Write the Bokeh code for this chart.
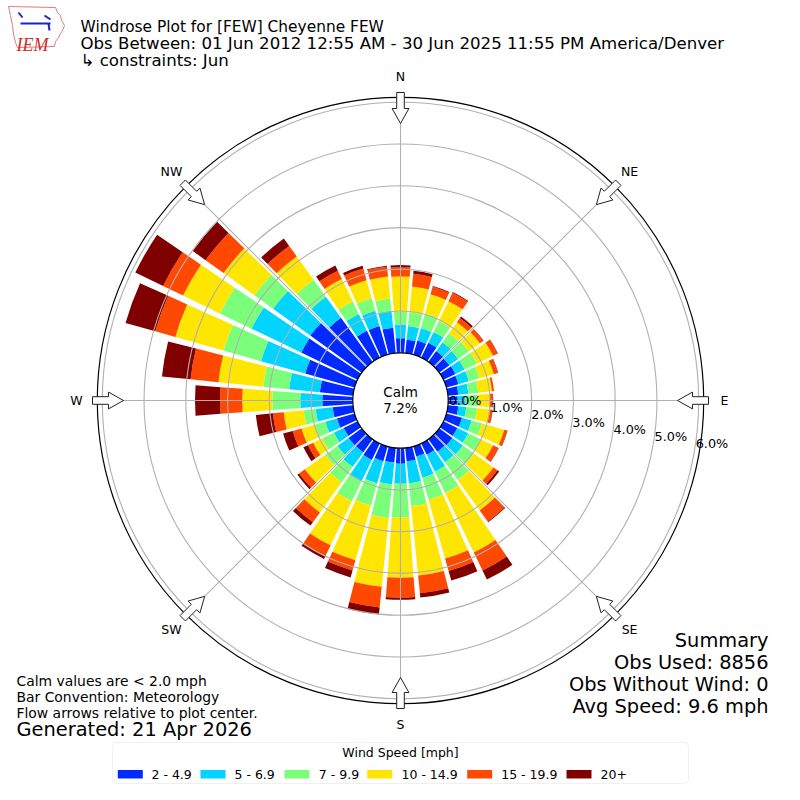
import numpy as np
from bokeh.plotting import figure
from bokeh.models import Range1d, ColumnDataSource, BoxAnnotation
from bokeh.core.properties import value
from bokeh.embed import file_html
from bokeh.resources import INLINE

# ---------------- data ----------------
directions = [0, 10, 20, 30, 40, 50, 60, 70, 80, 90, 100, 110, 120, 130, 140, 150, 160, 170,
              180, 190, 200, 210, 220, 230, 240, 250, 260, 270, 280, 290, 300, 310, 320, 330, 340, 350]
speed_labels = ["2 - 4.9", "5 - 6.9", "7 - 9.9", "10 - 14.9", "15 - 19.9", "20+"]
speed_colors = ["#002aff", "#00d4ff", "#7bff7b", "#ffe600", "#ff4800", "#800000"]

pct_2_5 = [0.35, 0.32, 0.35, 0.39, 0.32, 0.30, 0.32, 0.30, 0.25, 0.23, 0.25, 0.39, 0.37, 0.39, 0.37, 0.30, 0.25, 0.32,
           0.37, 0.35, 0.37, 0.44, 0.39, 0.39, 0.37, 0.44, 0.49, 0.73, 0.80, 1.23, 1.50, 1.52, 1.30, 0.71, 0.71, 0.61]
pct_5_7 = [0.33, 0.33, 0.31, 0.29, 0.26, 0.26, 0.24, 0.26, 0.24, 0.19, 0.19, 0.24, 0.29, 0.31, 0.31, 0.45, 0.53, 0.53,
           0.48, 0.53, 0.55, 0.57, 0.43, 0.33, 0.26, 0.29, 0.41, 0.53, 0.74, 1.10, 1.32, 1.10, 0.62, 0.45, 0.38, 0.41]
pct_7_10 = [0.31, 0.33, 0.36, 0.29, 0.26, 0.31, 0.33, 0.26, 0.24, 0.29, 0.26, 0.26, 0.33, 0.33, 0.53, 0.57, 0.55, 0.55,
            0.81, 0.81, 0.55, 0.53, 0.45, 0.36, 0.31, 0.26, 0.29, 0.67, 0.62, 0.93, 0.84, 0.55, 0.50, 0.33, 0.31, 0.29]
pct_10_15 = [0.84, 0.62, 0.48, 0.53, 0.33, 0.33, 0.43, 0.36, 0.33, 0.29, 0.31, 0.55, 0.33, 0.57, 0.89, 1.58, 1.46, 1.67,
             1.44, 1.65, 1.36, 1.17, 0.89, 0.60, 0.24, 0.33, 0.48, 0.72, 1.08, 1.20, 0.98, 0.91, 0.69, 0.60, 0.45, 0.53]
pct_15_20 = [0.22, 0.31, 0.19, 0.22, 0.12, 0.10, 0.12, 0.10, 0.05, 0.07, 0.07, 0.07, 0.14, 0.12, 0.33, 0.48, 0.31, 0.43,
             0.48, 0.50, 0.26, 0.29, 0.29, 0.17, 0.14, 0.22, 0.26, 0.53, 0.67, 0.50, 0.53, 0.53, 0.31, 0.22, 0.29, 0.24]
pct_20_up = [0.05, 0.07, 0.02, 0.02, 0.05, 0.01, 0.01, 0.01, 0.00, 0.01, 0.00, 0.01, 0.01, 0.05, 0.02, 0.24, 0.24, 0.10,
             0.05, 0.17, 0.17, 0.07, 0.10, 0.05, 0.12, 0.24, 0.41, 0.60, 0.69, 0.74, 0.74, 0.38, 0.22, 0.14, 0.07, 0.02]
speed_series = [pct_2_5, pct_5_7, pct_7_10, pct_10_15, pct_15_20, pct_20_up]

calm_pct = 7.2
ring_ticks = [0, 1, 2, 3, 4, 5, 6]
compass_names = ["N", "NE", "E", "SE", "S", "SW", "W", "NW"]
compass_deg = [0, 45, 90, 135, 180, 225, 270, 315]

title_main = "Windrose Plot for [FEW] Cheyenne FEW"
title_sub = ["Obs Between: 01 Jun 2012 12:55 AM - 30 Jun 2025 11:55 PM America/Denver",
             " \u21b3 constraints: Jun"]
notes = ["Calm values are < 2.0 mph", "Bar Convention: Meteorology", "Flow arrows relative to plot center."]
generated = "Generated: 21 Apr 2026"
summary = ["Summary", "Obs Used: 8856", "Obs Without Wind: 0", "Avg Speed: 9.6 mph"]
legend_title = "Wind Speed [mph]"

# ---------------- layout ----------------
FONT = value("DejaVu Sans")
p = figure(width=784, height=784, x_range=Range1d(0, 784), y_range=Range1d(16, 800),
           output_backend="svg", toolbar_location=None, min_border=0,
           x_axis_type=None, y_axis_type=None)
p.grid.visible = False
p.outline_line_color = None
p.background_fill_color = "white"
p.border_fill_color = "white"


def Y(yref):
    return 800 - yref


CX, CY = 400.0, Y(400)
R0 = 47.7      # radius of 0 % (calm circle edge)
S = 41.75      # pixels per percent
R_MAX = 6.12   # axis limit in percent


def rad(pct):
    return R0 + S * pct


HALF = np.deg2rad(4.25)

# bars
xs, ys, inner, outer, st, en, col = [], [], [], [], [], [], []
for i, d in enumerate(directions):
    cum = 0.0
    phi = np.deg2rad(90 - d)
    for b, series in enumerate(speed_series):
        v = series[i]
        if v <= 0:
            continue
        xs.append(CX); ys.append(CY)
        inner.append(rad(cum))
        cum += v
        outer.append(rad(cum))
        st.append(phi - HALF); en.append(phi + HALF)
        col.append(speed_colors[b])
src = ColumnDataSource(dict(x=xs, y=ys, inner=inner, outer=outer, start=st, end=en, color=col))
p.annular_wedge(x="x", y="y", inner_radius="inner", outer_radius="outer",
                start_angle="start", end_angle="end", fill_color="color",
                line_color=None, source=src)

# rings (grid above bars)
ring_r = [rad(k) for k in ring_ticks[1:]]
p.circle(x=[CX] * len(ring_r), y=[CY] * len(ring_r), radius=ring_r,
         fill_color=None, line_color="#b0b0b0", line_width=1.1)

# spokes
sp_t = np.deg2rad(np.array(compass_deg, dtype=float))
p.segment(x0=CX + R0 * np.sin(sp_t), y0=CY + R0 * np.cos(sp_t),
          x1=CX + rad(R_MAX) * np.sin(sp_t), y1=CY + rad(R_MAX) * np.cos(sp_t),
          line_color="#b0b0b0", line_width=1.1)

# outer boundary and calm circle
p.circle(x=[CX], y=[CY], radius=[rad(R_MAX)], fill_color=None, line_color="black", line_width=1.2)
p.circle(x=[CX], y=[CY], radius=[R0], fill_color="white", line_color="black", line_width=1.2)

# direction arrows
shape = [(308, -3.8), (292, -3.8), (292, -8.4), (277, 0), (292, 8.4), (292, 3.8), (308, 3.8)]
axs, ays = [], []
for d in compass_deg:
    t = np.deg2rad(d)
    ux, uy = np.sin(t), np.cos(t)
    vx, vy = np.cos(t), -np.sin(t)
    axs.append([CX + r * ux + w * vx for r, w in shape])
    ays.append([CY + r * uy + w * vy for r, w in shape])
p.patches(axs, ays, fill_color="white", line_color="#222222", line_width=1)

# compass labels
lt = np.deg2rad(np.array(compass_deg, dtype=float))
p.text(x=CX + 324 * np.sin(lt), y=CY + 324 * np.cos(lt), text=compass_names,
       text_font=FONT, text_font_size="12.5px", text_align="center", text_baseline="middle",
       text_color="black")

# ring labels
a10 = np.deg2rad(10)
rl_x = [CX + rad(k) * np.cos(a10) + 1.5 for k in ring_ticks]
rl_y = [CY - (rad(k) - R0) * np.sin(a10) for k in ring_ticks]
p.text(x=rl_x, y=rl_y, text=["%.1f%%" % k for k in ring_ticks], text_font=FONT,
       text_font_size="12.8px", text_align="left", text_baseline="middle", text_color="black")

# calm text
p.text(x=[CX, CX], y=[Y(391.5), Y(407.5)], text=["Calm", "%.1f%%" % calm_pct], text_font=FONT,
       text_font_size="13.5px", text_align="center", text_baseline="middle", text_color="black")

# header
p.text(x=[80], y=[Y(26)], text=[title_main], text_font=FONT,
       text_font_size="15.4px", text_align="left", text_baseline="alphabetic", text_color="black")
p.text(x=[80, 80], y=[Y(43), Y(59.5)], text=title_sub, text_font=FONT,
       text_font_size="16.6px", text_align="left", text_baseline="alphabetic", text_color="black")

# logo (simplified)
iowa_x = [8, 55, 57, 60, 61, 64, 62, 60, 58, 55, 54, 17, 15, 13, 12, 10, 8]
iowa_y = [6, 7, 12, 15, 20, 25, 30, 33, 37, 41, 46, 47, 42, 34, 25, 15, 6]
p.patch(iowa_x, [Y(y) for y in iowa_y], fill_color="white",
        line_color="#e07a7a", line_width=1)
p.segment(x0=[20, 44, 18, 48], y0=[Y(23), Y(15), Y(12), Y(23)],
          x1=[50, 50, 22, 49], y1=[Y(23), Y(19), Y(17), Y(30)],
          line_color="#1a22c8", line_width=2)
p.text(x=[16], y=[Y(44)], text=["IEM"], text_font=value("Liberation Serif"),
       text_font_style="italic", text_font_size="18px", text_color="#d42a2a",
       text_align="left", text_baseline="alphabetic")

# notes bottom-left
p.text(x=[16, 16, 16], y=[Y(680), Y(696), Y(712)], text=notes, text_font=FONT,
       text_font_size="13.9px", text_align="left", text_baseline="middle", text_color="black")
p.text(x=[16], y=[Y(729)], text=[generated], text_font=FONT,
       text_font_size="19.4px", text_align="left", text_baseline="middle", text_color="black")

# summary bottom-right
p.text(x=[768] * 4, y=[Y(640), Y(662), Y(684), Y(706)], text=summary, text_font=FONT,
       text_font_size="19.4px", text_align="right", text_baseline="middle", text_color="black")

# legend
p.add_layout(BoxAnnotation(left=112, right=688, top=Y(742), bottom=Y(783),
                           fill_color="white", fill_alpha=1.0, line_color="#cccccc",
                           line_width=1, border_radius=4, level="underlay"))
p.text(x=[400], y=[Y(752)], text=[legend_title], text_font=FONT, text_font_size="12.5px",
       text_align="center", text_baseline="middle", text_color="black")
sw_x = [117.3, 200.0, 284.0, 366.7, 466.7, 566.0]
lab_x = [151.0, 234.0, 318.3, 401.0, 500.7, 600.0]
p.quad(left=sw_x, right=[x + 25 for x in sw_x], top=[Y(769.5)] * 6, bottom=[Y(778)] * 6,
       fill_color=speed_colors, line_color=None)
p.text(x=lab_x, y=[Y(773.7)] * 6, text=speed_labels, text_font=FONT, text_font_size="12.5px",
       text_align="left", text_baseline="middle", text_color="black")

open("out.html", "w").write(file_html(p, INLINE))
